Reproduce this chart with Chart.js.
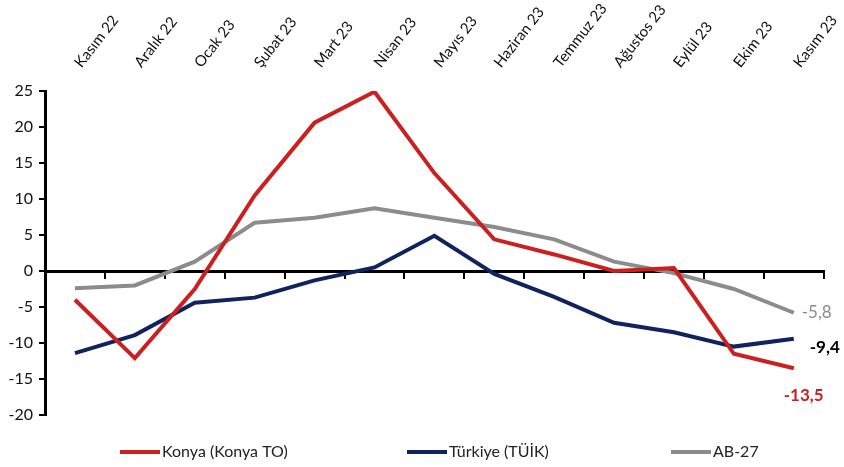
<!DOCTYPE html>
<html><head><meta charset="utf-8">
<script src="https://cdn.jsdelivr.net/npm/chart.js@4"></script>
<style>html,body{margin:0;padding:0;background:#fff}#wrap{width:844px;height:467px}</style>
</head><body><div id="wrap"><canvas id="c" width="844" height="467"></canvas></div>
<script>
const months = ["Kasım 22","Aralık 22","Ocak 23","Şubat 23","Mart 23","Nisan 23","Mayıs 23","Haziran 23","Temmuz 23","Ağustos 23","Eylül 23","Ekim 23","Kasım 23"];
const konya = [-4.0,-12.1,-2.5,10.5,20.6,24.9,13.6,4.4,2.3,0.0,0.4,-11.5,-13.5];
const turkiye = [-11.4,-8.9,-4.4,-3.7,-1.3,0.5,4.9,-0.4,-3.6,-7.2,-8.5,-10.5,-9.4];
const ab27 = [-2.4,-2.0,1.3,6.7,7.4,8.7,7.4,6.1,4.4,1.3,-0.3,-2.5,-5.8];
const yTicks = [-20,-15,-10,-5,0,5,10,15,20,25];
const seriesNames = ["Konya (Konya TO)","Türkiye (TÜİK)","AB-27"];
const endLabels = ["-13,5","-9,4","-5,8"];

const FONT = "Lato, 'Open Sans', sans-serif";

const endLabelPlugin = {
  id:'endLabels',
  afterDatasetsDraw(chart){
    const ctx = chart.ctx;
    const x = chart.scales.x, y = chart.scales.y;
    const last = months.length-1;
    const cfg = [
      {ds:0, color:'#cc1f1f', bold:true, dx:-10, dy:27},
      {ds:1, color:'#000000', bold:true, dx:16, dy:9},
      {ds:2, color:'#8c8c8c', bold:false, dx:8, dy:0}
    ];
    ctx.save();
    cfg.forEach(c=>{
      const v = chart.data.datasets[c.ds].data[last];
      const px = x.getPixelForValue(last), py = y.getPixelForValue(v);
      ctx.font = (c.bold?'bold ':'')+"17px "+FONT;
      ctx.fillStyle = c.color;
      ctx.textBaseline='middle';
      ctx.textAlign='left';
      ctx.fillText(endLabels[c.ds], px+c.dx, py+c.dy);
    });
    ctx.restore();
  }
};

const legendPlugin = {
  id:'lineLegend',
  afterDraw(chart){
    const ctx = chart.ctx;
    const starts = [120, 407, 671];
    const yc = 452;
    ctx.save();
    ctx.font = "16px "+FONT;
    ctx.textBaseline='middle';
    ctx.textAlign='left';
    chart.data.datasets.forEach((ds,i)=>{
      ctx.strokeStyle = ds.borderColor;
      ctx.lineWidth = 4;
      ctx.beginPath();
      ctx.moveTo(starts[i], yc);
      ctx.lineTo(starts[i]+40, yc);
      ctx.stroke();
      ctx.fillStyle = '#222';
      ctx.fillText(ds.label, starts[i]+42, yc);
    });
    ctx.restore();
  }
};

new Chart(document.getElementById('c'),{
  type:'line',
  data:{labels:months,datasets:[
    {label:seriesNames[0],data:konya,borderColor:'#cc1f1f',backgroundColor:'#cc1f1f',borderWidth:4,pointRadius:0,tension:0},
    {label:seriesNames[1],data:turkiye,borderColor:'#10235f',backgroundColor:'#10235f',borderWidth:4,pointRadius:0,tension:0},
    {label:seriesNames[2],data:ab27,borderColor:'#8c8c8c',backgroundColor:'#8c8c8c',borderWidth:4,pointRadius:0,tension:0}
  ]},
  options:{
    responsive:false,animation:false,
    layout:{padding:{left:0,right:17,top:0,bottom:52}},
    plugins:{
      legend:{display:false},
      tooltip:{enabled:false}
    },
    scales:{
      x:{position:'top',offset:true,
        afterFit(ax){ax.height = 91;},
        grid:{display:false},border:{display:false},
        ticks:{minRotation:52,maxRotation:52,color:'#111',font:{family:FONT,size:15},padding:12,labelOffset:17}},
      x2:{type:'category',labels:months,position:{y:0},offset:true,
        grid:{display:true,offset:true,drawOnChartArea:false,drawTicks:true,tickLength:6,color:'#000',lineWidth:2},
        border:{display:true,color:'#000',width:3},
        ticks:{display:false}},
      y:{min:-20,max:25,
        afterFit(ax){ax.width = 45;},
        afterBuildTicks(ax){ax.ticks = yTicks.map(v=>({value:v}));},
        grid:{drawOnChartArea:false,drawTicks:true,tickLength:6,color:'#000',lineWidth:2},
        border:{display:true,color:'#000',width:3},
        ticks:{color:'#111',font:{family:FONT,size:16},padding:6}}
    }
  },
  plugins:[endLabelPlugin, legendPlugin]
});
</script></body></html>
